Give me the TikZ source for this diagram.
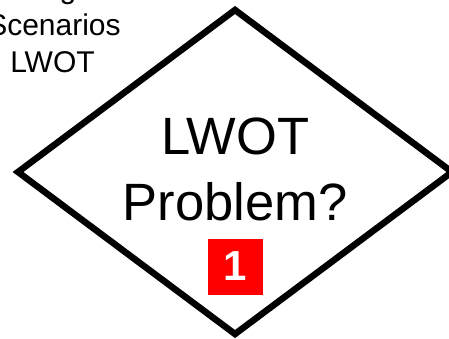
\documentclass[tikz,border=0pt]{standalone}
\usepackage{fontspec}
\setmainfont{Liberation Sans}
\begin{document}
\begin{tikzpicture}[x=1pt,y=-1pt,
  bigtext/.style={font=\fontsize{52.5}{65}\selectfont, inner sep=0pt, anchor=base},
  smalltext/.style={font=\fontsize{30}{37}\selectfont, inner sep=0pt, anchor=base},
  decision/.style={line width=6.5pt, line join=miter, draw=black},
  badge/.style={fill=red, minimum width=55pt, minimum height=56pt, inner sep=0pt, anchor=north west},
  badgetext/.style={font=\fontsize{42}{42}\selectfont\bfseries, text=white, inner sep=0pt, anchor=base}]
\useasboundingbox (0,0) rectangle (449,339);
\coordinate (top) at (235,10);
\coordinate (right) at (452,172);
\coordinate (bottom) at (235,334);
\coordinate (left) at (18,172);
\draw[decision] (top) -- (right) -- (bottom) -- (left) -- cycle;
\node[bigtext] (l1) at (235.5,155) {LWOT};
\node[bigtext] (l2) at (235,220) {Problem?};
\node[badge] (badge) at (208,239) {};
\node[badgetext] (num) at (235.5,280) {1};
\node[smalltext] (s1) at (53,-1) {Surge};
\node[smalltext] (s2) at (54,36) {Scenarios};
\node[smalltext] (s3) at (52.5,73) {LWOT};
\end{tikzpicture}
\end{document}
